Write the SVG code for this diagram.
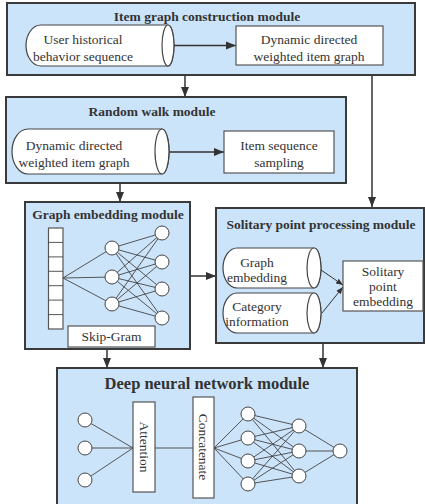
<svg xmlns="http://www.w3.org/2000/svg" width="425" height="504" viewBox="0 0 425 504">
<defs>
<marker id="ah" viewBox="0 0 10 10" refX="10" refY="5" markerWidth="10" markerHeight="10" markerUnits="userSpaceOnUse" orient="auto">
<path d="M0,1 L10,5 L0,9 z" fill="#333"/>
</marker>
<marker id="ahs" viewBox="0 0 10 10" refX="10" refY="5" markerWidth="7" markerHeight="7" markerUnits="userSpaceOnUse" orient="auto">
<path d="M0,1 L10,5 L0,9 z" fill="#333"/>
</marker>
</defs>
<style>
.mod{fill:#cce4fa;stroke:#3a3a3a;stroke-width:2}
.box{fill:#fff;stroke:#555;stroke-width:1.2}
.cyl{fill:#fff;stroke:#444;stroke-width:1.2}
text{font-family:'Liberation Serif','Times New Roman',serif}
.t{font-size:13.5px;fill:#333;text-anchor:middle}
.h{font-size:13.5px;font-weight:bold;fill:#333;text-anchor:middle}
.h2{font-size:16.5px;font-weight:bold;fill:#333;text-anchor:middle}
.ar{stroke:#333;stroke-width:1.5;fill:none;marker-end:url(#ah)}
.as{stroke:#333;stroke-width:1;fill:none;marker-end:url(#ahs)}
.ln{stroke:#444;stroke-width:0.9;fill:none}
.nd{fill:#fff;stroke:#444;stroke-width:1}
</style>

<g id="connectors">
<line class="ar" x1="185" y1="75" x2="185" y2="97"/>
<line class="ar" x1="120" y1="183" x2="120" y2="202"/>
<line class="ar" x1="190" y1="276" x2="216" y2="276"/>
<line class="ar" x1="107" y1="349" x2="107" y2="368"/>
<line class="ar" x1="323" y1="343" x2="323" y2="368"/>
<line class="ar" x1="372" y1="75" x2="372" y2="207"/>
</g>

<g id="item-graph-construction">
<rect class="mod" x="7" y="3" width="408" height="72"/>
<text class="h" x="207" y="21">Item graph construction module</text>
<g id="user-history">
<path class="cyl" d="M41,25 L168,25 A6,20.5 0 0 1 168,66 L41,66 A15,20.5 0 0 1 41,25 z"/>
<ellipse class="cyl" cx="168" cy="45.5" rx="6" ry="20.5"/>
<text class="t" x="83" y="43.5">User historical</text>
<text class="t" x="83" y="60.5">behavior sequence</text>
</g>
<line class="ar" x1="174" y1="45.5" x2="236" y2="45.5"/>
<g id="dyn-graph-1">
<rect class="box" x="236" y="26" width="147" height="39"/>
<text class="t" x="309" y="43.5">Dynamic directed</text>
<text class="t" x="309" y="60.5">weighted item graph</text>
</g>
</g>

<g id="random-walk">
<rect class="mod" x="6" y="97" width="340" height="86"/>
<text class="h" x="152" y="116">Random walk module</text>
<g id="dyn-graph-2">
<path class="cyl" d="M28,129 L162,129 A7,22.5 0 0 1 162,174 L28,174 A16,22.5 0 0 1 28,129 z"/>
<ellipse class="cyl" cx="162" cy="151.5" rx="7" ry="22.5"/>
<text class="t" x="74" y="149.5">Dynamic directed</text>
<text class="t" x="74" y="166.5">weighted item graph</text>
</g>
<line class="ar" x1="169" y1="152" x2="224" y2="152"/>
<g id="item-seq-sampling">
<rect class="box" x="224" y="131" width="110" height="42"/>
<text class="t" x="279" y="149.5">Item sequence</text>
<text class="t" x="279" y="166.5">sampling</text>
</g>
</g>

<g id="graph-embedding">
<rect class="mod" x="25" y="202" width="165" height="147"/>
<text class="h" x="108" y="219">Graph embedding module</text>
<g id="vec">
<rect class="box" x="48.5" y="228" width="14.5" height="101"/>
<line class="ln" x1="48.5" y1="242.4" x2="63" y2="242.4"/>
<line class="ln" x1="48.5" y1="256.9" x2="63" y2="256.9"/>
<line class="ln" x1="48.5" y1="271.3" x2="63" y2="271.3"/>
<line class="ln" x1="48.5" y1="285.7" x2="63" y2="285.7"/>
<line class="ln" x1="48.5" y1="300.1" x2="63" y2="300.1"/>
<line class="ln" x1="48.5" y1="314.6" x2="63" y2="314.6"/>
</g>
<g id="ge-lines">
<line class="ln" x1="63" y1="278" x2="112" y2="248"/>
<line class="ln" x1="63" y1="278" x2="112" y2="277"/>
<line class="ln" x1="63" y1="278" x2="112" y2="304"/>
<line class="ln" x1="112" y1="248" x2="162" y2="233"/>
<line class="ln" x1="112" y1="248" x2="162" y2="262"/>
<line class="ln" x1="112" y1="248" x2="162" y2="289"/>
<line class="ln" x1="112" y1="248" x2="162" y2="318"/>
<line class="ln" x1="112" y1="277" x2="162" y2="233"/>
<line class="ln" x1="112" y1="277" x2="162" y2="262"/>
<line class="ln" x1="112" y1="277" x2="162" y2="289"/>
<line class="ln" x1="112" y1="277" x2="162" y2="318"/>
<line class="ln" x1="112" y1="304" x2="162" y2="233"/>
<line class="ln" x1="112" y1="304" x2="162" y2="262"/>
<line class="ln" x1="112" y1="304" x2="162" y2="289"/>
<line class="ln" x1="112" y1="304" x2="162" y2="318"/>
</g>
<circle class="nd" cx="112" cy="248" r="7"/>
<circle class="nd" cx="112" cy="277" r="7"/>
<circle class="nd" cx="112" cy="304" r="7"/>
<circle class="nd" cx="162" cy="233" r="7"/>
<circle class="nd" cx="162" cy="262" r="7"/>
<circle class="nd" cx="162" cy="289" r="7"/>
<circle class="nd" cx="162" cy="318" r="7"/>
<g id="skip-gram">
<rect class="box" x="68" y="326" width="87" height="21"/>
<text class="t" x="111.5" y="341">Skip-Gram</text>
</g>
</g>

<g id="solitary-point">
<rect class="mod" x="216" y="208" width="208" height="135"/>
<text class="h" x="321" y="229">Solitary point processing module</text>
<g id="graph-emb-cyl">
<path class="cyl" d="M237,248 L314,248 A7,20 0 0 1 314,288 L237,288 A14,20 0 0 1 237,248 z"/>
<ellipse class="cyl" cx="314" cy="268" rx="7" ry="20"/>
<text class="t" x="257" y="267">Graph</text>
<text class="t" x="257" y="282">embedding</text>
</g>
<g id="category-cyl">
<path class="cyl" d="M237,293 L314,293 A7,20 0 0 1 314,333 L237,333 A14,20 0 0 1 237,293 z"/>
<ellipse class="cyl" cx="314" cy="313" rx="7" ry="20"/>
<text class="t" x="257" y="311">Category</text>
<text class="t" x="257" y="326">information</text>
</g>
<line class="as" x1="321" y1="270" x2="343" y2="285"/>
<line class="as" x1="322" y1="313" x2="343" y2="287"/>
<g id="solitary-emb">
<rect class="box" x="343" y="261" width="80" height="50"/>
<text class="t" x="383" y="276">Solitary</text>
<text class="t" x="383" y="291">point</text>
<text class="t" x="383" y="306">embedding</text>
</g>
</g>

<g id="deep-nn">
<rect class="mod" x="57" y="368" width="300" height="145"/>
<text class="h2" x="207" y="389">Deep neural network module</text>
<g id="dnn-lines">
<line class="ln" x1="85" y1="420" x2="133" y2="448"/>
<line class="ln" x1="85" y1="448" x2="133" y2="448"/>
<line class="ln" x1="85" y1="480" x2="133" y2="448"/>
<line class="ln" x1="155" y1="448" x2="193" y2="448"/>
<line class="ln" x1="214" y1="448" x2="248" y2="414"/>
<line class="ln" x1="214" y1="448" x2="248" y2="438"/>
<line class="ln" x1="214" y1="448" x2="248" y2="461"/>
<line class="ln" x1="214" y1="448" x2="248" y2="484"/>
<line class="ln" x1="248" y1="414" x2="299" y2="426"/>
<line class="ln" x1="248" y1="414" x2="299" y2="451"/>
<line class="ln" x1="248" y1="414" x2="299" y2="476"/>
<line class="ln" x1="248" y1="438" x2="299" y2="426"/>
<line class="ln" x1="248" y1="438" x2="299" y2="451"/>
<line class="ln" x1="248" y1="438" x2="299" y2="476"/>
<line class="ln" x1="248" y1="461" x2="299" y2="426"/>
<line class="ln" x1="248" y1="461" x2="299" y2="451"/>
<line class="ln" x1="248" y1="461" x2="299" y2="476"/>
<line class="ln" x1="248" y1="484" x2="299" y2="426"/>
<line class="ln" x1="248" y1="484" x2="299" y2="451"/>
<line class="ln" x1="248" y1="484" x2="299" y2="476"/>
<line class="ln" x1="299" y1="426" x2="340" y2="451"/>
<line class="ln" x1="299" y1="451" x2="340" y2="451"/>
<line class="ln" x1="299" y1="476" x2="340" y2="451"/>
</g>
<circle class="nd" cx="85" cy="420" r="7"/>
<circle class="nd" cx="85" cy="448" r="7"/>
<circle class="nd" cx="85" cy="480" r="7"/>
<g id="attention">
<rect class="box" x="133" y="402" width="22" height="90"/>
<text class="t" transform="translate(144,447) rotate(90)" x="0" y="4.5">Attention</text>
</g>
<g id="concatenate">
<rect class="box" x="193" y="397" width="21" height="101"/>
<text class="t" transform="translate(203.5,447) rotate(90)" x="0" y="4.5">Concatenate</text>
</g>
<circle class="nd" cx="248" cy="414" r="7"/>
<circle class="nd" cx="248" cy="438" r="7"/>
<circle class="nd" cx="248" cy="461" r="7"/>
<circle class="nd" cx="248" cy="484" r="7"/>
<circle class="nd" cx="299" cy="426" r="7"/>
<circle class="nd" cx="299" cy="451" r="7"/>
<circle class="nd" cx="299" cy="476" r="7"/>
<circle class="nd" cx="340" cy="451" r="7"/>
</g>
</svg>
